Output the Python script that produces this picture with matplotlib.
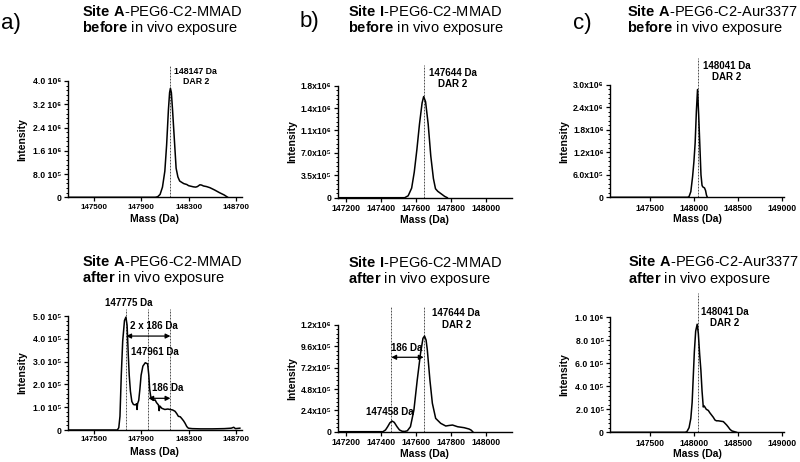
import matplotlib
matplotlib.use("Agg")
import matplotlib.pyplot as plt
from matplotlib.ticker import AutoMinorLocator

plt.rcParams['font.family'] = ['Liberation Sans', 'DejaVu Sans']
plt.rcParams['mathtext.fontset'] = 'custom'
plt.rcParams['mathtext.rm'] = 'Liberation Sans'
plt.rcParams['mathtext.bf'] = 'Liberation Sans:bold'

# ---- data (mass in Da, intensity in counts) ----
# a) Site A-PEG6-C2-MMAD, before
a_pre_mass = [147280, 148020, 148040, 148060, 148080, 148100, 148115, 148130, 148140, 148147,
              148155, 148165, 148180, 148195, 148210, 148225, 148240, 148260, 148285, 148300,
              148320, 148340, 148360, 148375, 148395, 148410, 148425, 148450, 148480, 148520,
              148560, 148600, 148630]
a_pre_int = [0, 0, 0.02e6, 0.10e6, 0.35e6, 0.9e6, 1.8e6, 3.0e6, 3.6e6, 3.75e6,
             3.6e6, 3.0e6, 2.0e6, 1.0e6, 0.7e6, 0.56e6, 0.52e6, 0.47e6, 0.44e6, 0.40e6,
             0.38e6, 0.36e6, 0.35e6, 0.37e6, 0.43e6, 0.42e6, 0.39e6, 0.37e6, 0.33e6, 0.25e6,
             0.16e6, 0.08e6, 0]

# a) after
a_post_mass = [147280, 147700, 147712, 147722, 147733, 147745, 147760, 147772, 147782, 147792,
               147800, 147810, 147822, 147835, 147850, 147862, 147866, 147870, 147880, 147890,
               147900, 147915, 147935, 147955, 147965, 147972, 147980, 147990, 148005, 148018,
               148030, 148046, 148052, 148058, 148075, 148100, 148125, 148144, 148165, 148186,
               148200, 148214, 148230, 148243, 148258, 148270, 148285, 148298, 148330, 148400,
               148500, 148600, 148660, 148680, 148695, 148732]
a_post_int = [0, 0, 0.1e5, 0.6e5, 2.4e5, 3.9e5, 4.8e5, 4.95e5, 4.6e5, 3.3e5,
              2.4e5, 1.7e5, 1.25e5, 1.12e5, 1.1e5, 1.15e5, 0.9e5, 1.15e5, 1.3e5, 1.8e5,
              2.4e5, 2.8e5, 2.95e5, 2.9e5, 2.4e5, 1.8e5, 1.5e5, 1.35e5, 1.3e5, 1.32e5,
              1.2e5, 1.1e5, 0.85e5, 1.05e5, 0.95e5, 0.9e5, 0.92e5, 0.9e5, 0.88e5, 0.82e5,
              0.72e5, 0.6e5, 0.58e5, 0.5e5, 0.4e5, 0.3e5, 0.15e5, 0.08e5, 0.06e5, 0.05e5,
              0.05e5, 0.06e5, 0.08e5, 0.12e5, 0.06e5, 0.08e5]

# b) Site I-PEG6-C2-MMAD, before
b_pre_mass = [147150, 147535, 147555, 147575, 147590, 147605, 147620, 147635, 147644, 147655,
              147670, 147685, 147700, 147712, 147725, 147745, 147765, 147780]
b_pre_int = [0, 0, 0.03e6, 0.15e6, 0.4e6, 0.75e6, 1.15e6, 1.48e6, 1.58e6, 1.5e6,
             1.15e6, 0.65e6, 0.3e6, 0.14e6, 0.1e6, 0.06e6, 0.02e6, 0]

# b) after
b_post_mass = [147150, 147410, 147425, 147437, 147450, 147462, 147475, 147491, 147505, 147520,
               147535, 147550, 147568, 147588, 147607, 147626, 147640, 147649, 147658, 147665,
               147680, 147694, 147713, 147742, 147771, 147790, 147810, 147839, 147877, 147905,
               147916, 147926]
b_post_int = [0, 0, 0.2e5, 0.56e5, 1.0e5, 1.2e5, 1.05e5, 0.56e5, 0.2e5, 0.05e5,
              0.03e5, 0.1e5, 0.56e5, 2.44e5, 5.8e5, 8.8e5, 10.5e5, 10.76e5, 10.3e5, 9.2e5,
              5.8e5, 3.2e5, 1.5e5, 0.94e5, 0.64e5, 0.7e5, 0.75e5, 0.56e5, 0.45e5, 0.3e5,
              0.19e5, 0]

# c) Site A-PEG6-C2-Aur3377, before
c_pre_mass = [147050, 147930, 147945, 147965, 147985, 148000, 148014, 148028, 148041, 148054,
              148067, 148080, 148092, 148100, 148120, 148132, 148142, 148152]
c_pre_int = [0, 0, 0.02e6, 0.15e6, 0.55e6, 0.95e6, 1.45e6, 2.3e6, 2.88e6, 2.2e6,
             1.4e6, 0.6e6, 0.32e6, 0.28e6, 0.25e6, 0.18e6, 0.06e6, 0]

# c) after
c_post_mass = [147050, 147900, 147920, 147945, 147965, 147980, 147992, 148005, 148020, 148037,
               148050, 148065, 148079, 148092, 148106, 148115, 148124, 148140, 148163, 148180,
               148200, 148220, 148238, 148255, 148276, 148300, 148333, 148350, 148370, 148390,
               148408, 148430, 148457, 148483]
c_post_int = [0, 0, 0.05e5, 0.4e5, 1.2e5, 2.6e5, 4.7e5, 7.0e5, 8.8e5, 9.4e5,
              8.6e5, 6.8e5, 5.4e5, 3.6e5, 2.2e5, 2.3e5, 2.2e5, 2.0e5, 1.9e5, 1.7e5,
              1.5e5, 1.3e5, 1.07e5, 1.0e5, 1.0e5, 0.97e5, 0.93e5, 0.8e5, 0.64e5, 0.45e5,
              0.26e5, 0.12e5, 0.06e5, 0]

# axis ticks and labels
a_xticks = [147500, 147900, 148300, 148700]
b_xticks = [147200, 147400, 147600, 147800, 148000]
c_xticks = [147500, 148000, 148500, 149000]

a_pre_yticks = [0, 0.8e6, 1.6e6, 2.4e6, 3.2e6, 4.0e6]
a_pre_ylabels = ["0", "8.0 10⁵", "1.6 10⁶", "2.4 10⁶", "3.2 10⁶", "4.0 10⁶"]
a_post_yticks = [0, 1e5, 2e5, 3e5, 4e5, 5e5]
a_post_ylabels = ["0", "1.0 10⁵", "2.0 10⁵", "3.0 10⁵", "4.0 10⁵", "5.0 10⁵"]
b_pre_yticks = [0, 3.5e5, 7.0e5, 10.5e5, 14.0e5, 17.5e5]
b_pre_ylabels = ["0", "3.5x10⁵", "7.0x10⁵", "1.1x10⁶", "1.4x10⁶", "1.8x10⁶"]
b_post_yticks = [0, 2.4e5, 4.8e5, 7.2e5, 9.6e5, 12e5]
b_post_ylabels = ["0", "2.4x10⁵", "4.8x10⁵", "7.2x10⁵", "9.6x10⁵", "1.2x10⁶"]
c_pre_yticks = [0, 6e5, 12e5, 18e5, 24e5, 30e5]
c_pre_ylabels = ["0", "6.0x10⁵", "1.2x10⁶", "1.8x10⁶", "2.4x10⁶", "3.0x10⁶"]
c_post_yticks = [0, 2e5, 4e5, 6e5, 8e5, 10e5]
c_post_ylabels = ["0", "2.0 10⁵", "4.0 10⁵", "6.0 10⁵", "8.0 10⁵", "1.0 10⁶"]

# marked masses
a_pre_marks = [148147]
a_post_marks = [147775, 147961, 148147]
b_pre_marks = [147644]
b_post_marks = [147458, 147644]
c_pre_marks = [148041]
c_post_marks = [148041]

W, H = 800, 462
fig = plt.figure(figsize=(W / 100, H / 100), dpi=100)


def make_axes(left, top, right, bottom):
    return fig.add_axes([left / W, 1 - bottom / H, (right - left) / W, (bottom - top) / H])


def style(ax, xlim, xticks, yticks, ylabels, hpx, xsize=6.2):
    ax.set_xlim(*xlim)
    ax.set_ylim(0, yticks[-1])
    ax.set_xticks(xticks)
    ax.set_xticklabels([str(t) for t in xticks])
    ax.set_yticks(yticks)
    ax.set_yticklabels(ylabels)
    ax.yaxis.set_minor_locator(AutoMinorLocator(5))
    for s in ['top', 'right']:
        ax.spines[s].set_visible(False)
    for s in ['left', 'bottom']:
        ax.spines[s].set_linewidth(1.0)
    ax.tick_params(axis='both', which='major', length=3, width=0.9, labelsize=6.2, pad=1.5)
    ax.tick_params(axis='x', labelsize=xsize)
    ax.tick_params(axis='y', which='minor', length=1.6, width=0.7)
    for lab in ax.get_xticklabels() + ax.get_yticklabels():
        lab.set_fontweight('bold')
    ax.set_xlabel("Mass (Da)", fontsize=7.5, fontweight='bold')
    ax.set_ylabel("Intensity", fontsize=7.5, fontweight='bold')
    ax.xaxis.label.set_va('center')
    ax.xaxis.set_label_coords(0.5, -22 / hpx)
    ax.yaxis.label.set_va('center')
    ax.yaxis.set_label_coords(-0.262, 0.5)
    ax.patch.set_visible(False)


def marks(ax, masses, top):
    for m in masses:
        ax.plot([m, m], [0, top], ls=(0, (2.2, 1.4)), lw=0.6, color='#333333',
                clip_on=False, zorder=1)


def two_way(ax, x0, x1, y):
    ax.annotate('', xy=(x1, y), xytext=(x0, y),
                arrowprops=dict(arrowstyle='<|-|>', lw=0.9, color='black',
                                mutation_scale=7, shrinkA=0, shrinkB=0))


lab_kw = dict(fontsize=7, fontweight='bold', ha='center', va='center', linespacing=1.15)
curve_kw = dict(color='black', lw=1.1, zorder=3, solid_joinstyle='round')

# a) before
ax = make_axes(67.5, 81, 242, 197.3)
style(ax, (147280, 148750), a_xticks, a_pre_yticks, a_pre_ylabels, 116.3, xsize=5.8)
marks(ax, a_pre_marks, 4.55e6)
ax.plot(a_pre_mass, a_pre_int, **curve_kw)
ax.text(148360, 4.17e6, "148147 Da\nDAR 2", fontsize=6.3, fontweight='bold',
        ha='center', va='center', linespacing=1.15)

# a) after
ax = make_axes(67.5, 316, 242, 430)
style(ax, (147280, 148750), a_xticks, a_post_yticks, a_post_ylabels, 114, xsize=5.8)
marks(ax, a_post_marks, 5.3e5)
ax.plot(a_post_mass, a_post_int, **curve_kw)
ax.text(147792, 5.58e5, "147775 Da", **lab_kw)
ax.text(148004, 4.57e5, "2 x 186 Da", **lab_kw)
ax.text(148018, 3.41e5, "147961 Da", **lab_kw)
ax.text(148121, 1.85e5, "186 Da", **lab_kw)
two_way(ax, a_post_marks[0], a_post_marks[2], 4.12e5)
two_way(ax, a_post_marks[1], a_post_marks[2], 1.39e5)

# b) before
ax = make_axes(337.7, 85.7, 511.7, 197.7)
style(ax, (147150, 148150), b_xticks, b_pre_yticks, b_pre_ylabels, 112)
marks(ax, b_pre_marks, 2.07e6)
ax.plot(b_pre_mass, b_pre_int, **curve_kw)
ax.text(147810, 1.866e6, "147644 Da\nDAR 2", **lab_kw)

# b) after
ax = make_axes(337.7, 325, 511.7, 431.7)
style(ax, (147150, 148150), b_xticks, b_post_yticks, b_post_ylabels, 106.7)
marks(ax, b_post_marks, 1.414e6)
ax.plot(b_post_mass, b_post_int, **curve_kw)
ax.text(147831, 1.268e6, "147644 Da\nDAR 2", **lab_kw)
ax.text(147544, 9.44e5, "186 Da", **lab_kw)
ax.text(147452, 2.18e5, "147458 Da", **lab_kw)
two_way(ax, b_post_marks[0], b_post_marks[1], 8.37e5)

# c) before
ax = make_axes(610, 85, 784, 197.3)
style(ax, (147050, 149020), c_xticks, c_pre_yticks, c_pre_ylabels, 112.3)
marks(ax, c_pre_marks, 3.72e6)
ax.plot(c_pre_mass, c_pre_int, **curve_kw)
ax.text(148367, 3.35e6, "148041 Da\nDAR 2", **lab_kw)

# c) after
ax = make_axes(610, 317.3, 784, 432.3)
style(ax, (147050, 149020), c_xticks, c_post_yticks, c_post_ylabels, 115)
marks(ax, c_post_marks, 1.21e6)
ax.plot(c_post_mass, c_post_int, **curve_kw)
ax.text(148352, 1.0e6, "148041 Da\nDAR 2", **lab_kw)

# titles and panel letters
title_kw = dict(fontsize=10.5, ha='left', va='center')
titles = [
    (81.7, 11.7, r"$\mathbf{Site\ A}$-PEG6-C2-MMAD"),
    (81.7, 28.3, r"$\mathbf{before}$ in vivo exposure"),
    (81.7, 261.7, r"$\mathbf{Site\ A}$-PEG6-C2-MMAD"),
    (81.7, 278.0, r"$\mathbf{after}$ in vivo exposure"),
    (348.3, 11.7, r"$\mathbf{Site\ I}$-PEG6-C2-MMAD"),
    (348.3, 28.3, r"$\mathbf{before}$ in vivo exposure"),
    (348.3, 262.7, r"$\mathbf{Site\ I}$-PEG6-C2-MMAD"),
    (348.3, 279.3, r"$\mathbf{after}$ in vivo exposure"),
    (626.7, 11.7, r"$\mathbf{Site\ A}$-PEG6-C2-Aur3377"),
    (626.7, 28.3, r"$\mathbf{before}$ in vivo exposure"),
    (627.5, 261.7, r"$\mathbf{Site\ A}$-PEG6-C2-Aur3377"),
    (628.5, 279.0, r"$\mathbf{after}$ in vivo exposure"),
]
for x, y, t in titles:
    fig.text(x / W, 1 - y / H, t, **title_kw)

for x, y, t in [(1, 23, "a)"), (300, 22, "b)"), (573, 23, "c)")]:
    fig.text(x / W, 1 - y / H, t, fontsize=16, ha='left', va='center')

fig.savefig("out.png", dpi=100)
